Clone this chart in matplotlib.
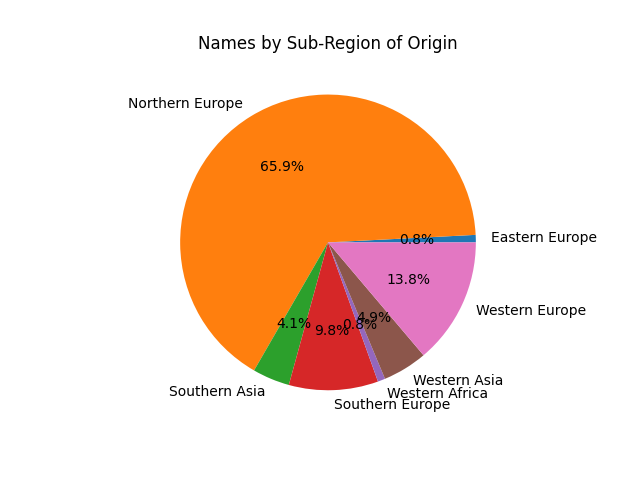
import matplotlib
matplotlib.use("Agg")
import matplotlib.pyplot as plt

# counts of names per sub-region
regions = ["Eastern Europe", "Northern Europe", "Southern Asia", "Southern Europe",
           "Western Africa", "Western Asia", "Western Europe"]
counts = [1, 81, 5, 12, 1, 6, 17]

fig, ax = plt.subplots(figsize=(6.4, 4.8), dpi=100)
ax.pie(counts, labels=regions, autopct="%1.1f%%")
ax.set_title("Names by Sub-Region of Origin")
plt.savefig("out.png")
